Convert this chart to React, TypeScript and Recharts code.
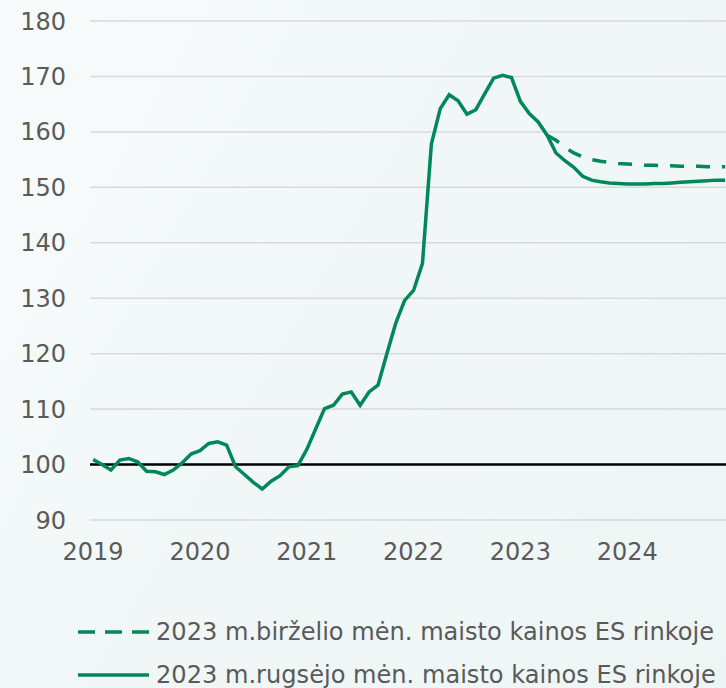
import { LineChart, Line, XAxis, YAxis, CartesianGrid, ReferenceLine, Legend } from "recharts";

// month index 0 = 2019-01
const years = ["2019", "2020", "2021", "2022", "2023", "2024"];
const yTicks = [90, 100, 110, 120, 130, 140, 150, 160, 170, 180];

const septemberForecast = [
  100.9, 100.0, 99.0, 100.8, 101.1, 100.5, 98.8, 98.7, 98.2, 99.0, 100.3, 101.9,
  102.5, 103.8, 104.1, 103.5, 99.6, 98.2, 96.8, 95.6, 97.0, 98.0, 99.6, 99.8,
  102.7, 106.4, 110.1, 110.7, 112.7, 113.1, 110.7, 113.1, 114.3, 120.0, 125.5, 129.6,
  131.4, 136.3, 157.8, 164.2, 166.7, 165.6, 163.2, 164.0, 166.9, 169.7, 170.2, 169.8,
  165.5, 163.3, 161.8, 159.4, 156.2, 154.8, 153.6, 152.0, 151.3, 151.0, 150.8, 150.7,
  150.6, 150.6, 150.6, 150.7, 150.7, 150.8, 150.9, 151.0, 151.1, 151.2, 151.3, 151.3,
];

const juneStart = 51;
const juneForecast = [
  159.4, 158.5, 157.2, 156.2, 155.5, 155.0, 154.7, 154.5, 154.3, 154.2, 154.1, 154.0,
  154.0, 153.9, 153.9, 153.8, 153.8, 153.8, 153.7, 153.7, 153.7,
];

const labels = [
  "2023 m.birželio mėn. maisto kainos ES rinkoje",
  "2023 m.rugsėjo mėn. maisto kainos ES rinkoje",
];

const GREEN = "#00875A";
const TEXT = "#5a5a5a";
const FONT = "'DejaVu Sans', Verdana, sans-serif";

const data = septemberForecast.map((v, m) => ({
  m,
  sep: v,
  jun: m >= juneStart ? juneForecast[m - juneStart] : null,
}));

function LegendBox() {
  return (
    <svg width={726} height={128} style={{ display: "block" }}>
      <line x1={78} x2={149} y1={72} y2={72} stroke={GREEN} strokeWidth={3.5} strokeDasharray="17 10" />
      <text x={156} y={72} dy="0.35em" fontSize={24.1} fill={TEXT} fontFamily={FONT}>
        {labels[0]}
      </text>
      <line x1={78} x2={149} y1={115} y2={115} stroke={GREEN} strokeWidth={3.5} />
      <text x={156} y={115} dy="0.35em" fontSize={24.1} fill={TEXT} fontFamily={FONT}>
        {labels[1]}
      </text>
    </svg>
  );
}

export default function App() {
  return (
    <div
      style={{
        position: "absolute",
        left: 0,
        top: 0,
        width: 726,
        height: 688,
        background: "linear-gradient(120deg, #f8fbfb 0%, #f1f7f7 45%, #eef6f5 100%)",
        fontFamily: FONT,
      }}
    >
      <LineChart width={726} height={688} data={data} margin={{ top: 21, right: 0, bottom: 0, left: 0 }}>
        <CartesianGrid vertical={false} stroke="#d9d9d9" strokeWidth={1.5} />
        <XAxis
          type="number"
          dataKey="m"
          domain={[-0.35, 71.1]}
          ticks={[0, 12, 24, 36, 48, 60]}
          tickFormatter={(v: number) => years[v / 12]}
          axisLine={false}
          tickLine={false}
          tickSize={0}
          tickMargin={23}
          height={40}
          tick={{ fill: TEXT, fontSize: 24, fontFamily: FONT }}
        />
        <YAxis
          domain={[90, 180]}
          ticks={yTicks}
          axisLine={false}
          tickLine={false}
          tickSize={0}
          tickMargin={24}
          width={90}
          tick={{ fill: TEXT, fontSize: 24, fontFamily: FONT }}
        />
        <ReferenceLine y={100} stroke="#000" strokeWidth={2.5} />
        <Line
          type="linear"
          dataKey="jun"
          stroke={GREEN}
          strokeWidth={3.5}
          strokeDasharray="14 12"
          dot={false}
          isAnimationActive={false}
        />
        <Line type="linear" dataKey="sep" stroke={GREEN} strokeWidth={3.5} dot={false} isAnimationActive={false} />
        <Legend verticalAlign="bottom" content={() => <LegendBox />} />
      </LineChart>
    </div>
  );
}
